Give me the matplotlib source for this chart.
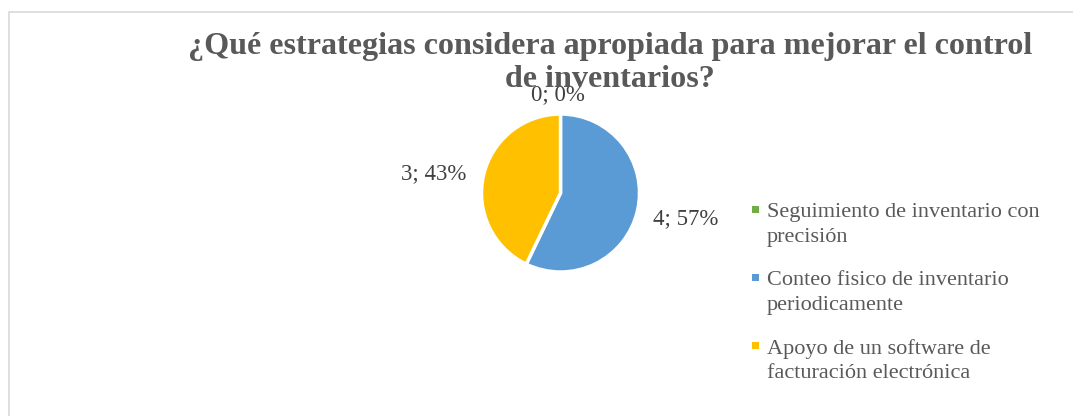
import matplotlib
matplotlib.use("Agg")
import matplotlib.pyplot as plt
from matplotlib.patches import Rectangle

categories = ["Seguimiento de inventario con\nprecisión",
              "Conteo fisico de inventario\nperiodicamente",
              "Apoyo de un software de\nfacturación electrónica"]
values = [0, 4, 3]
colors = ["#70AD47", "#5B9BD5", "#FFC000"]
title = "¿Qué estrategias considera apropiada para mejorar el control\nde inventarios?"

W, H = 1073, 416
fig = plt.figure(figsize=(W / 100, H / 100), dpi=100)
plt.rcParams['font.family'] = ['Liberation Serif', 'DejaVu Serif']

# chart border
fig.patches.append(Rectangle((8.5 / W, -0.1), 1.2, (1 - 12.5 / H) + 0.1,
                             transform=fig.transFigure, fill=False,
                             edgecolor="#D9D9D9", linewidth=1.2))

cx, cy, r = 560.5, 193, 79
ax = fig.add_axes([(cx - r) / W, 1 - (cy + r) / H, 2 * r / W, 2 * r / H])
wedges, _ = ax.pie(values, colors=colors, startangle=90, counterclock=False,
                   wedgeprops=dict(edgecolor="white", linewidth=2.5))
ax.set_xlim(-1, 1)
ax.set_ylim(-1, 1)
ax.set_aspect("auto")

total = sum(values)
label_pos = [(-0.03, 1.24), (1.58, -0.32), (-1.61, 0.24)]
for v, (lx, ly) in zip(values, label_pos):
    ax.text(lx, ly, f"{v}; {round(100 * v / total)}%", ha="center", va="center",
            fontsize=16.5, color="#404040", clip_on=False)

fig.text(610 / W, 1 - 63 / H, title, ha="center", va="center",
         fontsize=23.1, fontweight="bold", color="#595959", linespacing=1.16)

# legend
leg_y = [225, 293, 361]
for cat, col, y in zip(categories, colors, leg_y):
    fig.patches.append(Rectangle((751.5 / W, 1 - (y - 12) / H), 7 / W, 7 / H,
                                 transform=fig.transFigure, facecolor=col,
                                 edgecolor="none"))
    fig.text(767 / W, 1 - y / H, cat, ha="left", va="center",
             fontsize=16, color="#595959", linespacing=1.38)

fig.savefig("out.png", dpi=100, facecolor="white")
